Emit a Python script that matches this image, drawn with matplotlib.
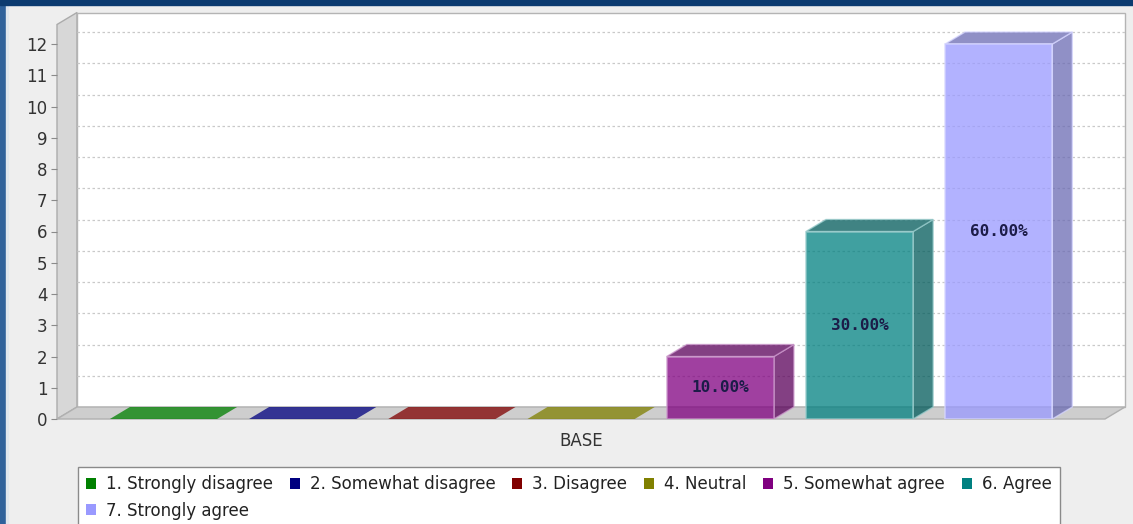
import matplotlib.pyplot as plt
from matplotlib.patches import Polygon, Rectangle
from matplotlib.colors import to_rgb

# survey answers for the single group
answers = ['1. Strongly disagree', '2. Somewhat disagree', '3. Disagree', '4. Neutral',
           '5. Somewhat agree', '6. Agree', '7. Strongly agree']
counts = [0, 0, 0, 0, 2, 6, 12]
colors = ['#008000', '#000080', '#800000', '#808000', '#800080', '#008080', '#9999ff']
group = 'BASE'
y_ticks = list(range(0, 13))

total = sum(counts)
ALPHA = 0.75


def darker(c, f=0.7):
    return tuple(v * f for v in to_rgb(c))


def lighter(c, f=0.6):
    return tuple(v + (1 - v) * f for v in to_rgb(c))


fig = plt.figure(figsize=(11.33, 5.24), dpi=100)
fig.patch.set_facecolor('#eeeeee')

# window frame bands
fig.patches.append(Rectangle((0, 0), 6 / 1133, 1, transform=fig.transFigure,
                             color='#2e619b', zorder=0))
fig.patches.append(Rectangle((6 / 1133, 0), 2 / 1133, 1, transform=fig.transFigure,
                             color='#dfe6ee', zorder=0))
fig.patches.append(Rectangle((0, 1 - 5 / 524), 1, 5 / 524, transform=fig.transFigure,
                             color='#0c3b70', zorder=0))

ax = fig.add_axes([57 / 1133, 105 / 524, 1068 / 1133, 406.5 / 524])
ax.set_facecolor('none')
ax.set_xlim(-0.765, 6.907)
ax.set_ylim(0, 13.008)
for s in ax.spines.values():
    s.set_visible(False)

# 3d depth in data units (20 px right, 12 px up)
xlo, xhi = ax.get_xlim()
ylo, yhi = ax.get_ylim()
DX = 20 * (xhi - xlo) / (ax.get_position().width * fig.get_figwidth() * fig.dpi)
DY = 12 * (yhi - ylo) / (ax.get_position().height * fig.get_figheight() * fig.dpi)
x0, x1 = xlo, xhi - DX
ytop = yhi - DY

# walls and floor
ax.add_patch(Polygon([(x0, 0), (x0 + DX, DY), (x0 + DX, ytop + DY), (x0, ytop)],
                     closed=True, fc='#d7d7d7', ec='#ababab', lw=1, zorder=1, clip_on=False))
ax.add_patch(Rectangle((x0 + DX, DY), x1 - x0, ytop, fc='white', ec='#b4b4b4',
                       lw=1, zorder=1, clip_on=False))
ax.add_patch(Polygon([(x0, 0), (x1, 0), (x1 + DX, DY), (x0 + DX, DY)],
                     closed=True, fc='#cecece', ec='#b0b0b0', lw=1, zorder=2, clip_on=False))
for v in y_ticks[1:]:
    ax.plot([x0 + DX, x1 + DX], [v + DY, v + DY], ls=(0, (2, 2)), color='#c9c9c9',
            lw=0.9, zorder=1.5)

# 3d bars
width = 0.77
for i, (v, c) in enumerate(zip(counts, colors)):
    left, right = i - width / 2, i + width / 2
    if v == 0:
        ax.add_patch(Polygon([(left, 0), (right, 0), (right + DX, DY), (left + DX, DY)],
                             closed=True, fc=c, alpha=ALPHA, lw=0, zorder=3))
        continue
    edge = lighter(c)
    ax.add_patch(Polygon([(right, 0), (right + DX, DY), (right + DX, v + DY), (right, v)],
                         closed=True, fc=darker(c), alpha=ALPHA, ec=edge, lw=1, zorder=3))
    ax.add_patch(Polygon([(left, v), (right, v), (right + DX, v + DY), (left + DX, v + DY)],
                         closed=True, fc=darker(c), alpha=ALPHA, ec=edge, lw=1, zorder=3))
    ax.add_patch(Rectangle((left, 0), width, v, fc=c, alpha=ALPHA, ec=edge, lw=1.2, zorder=4))
    ax.text(i, v / 2, f'{v / total * 100:.2f}%', ha='center', va='center',
            family='DejaVu Sans Mono', weight='bold', size=11.5, color='#1c1c48', zorder=5)

ax.set_yticks(y_ticks)
ax.set_yticklabels([str(t) for t in y_ticks])
ax.tick_params(axis='y', length=4, color='#8a8a8a', pad=3, labelsize=12, labelcolor='#333333')
ax.set_xticks([3])
ax.set_xticklabels([group])
ax.tick_params(axis='x', length=0, pad=9, labelsize=12, labelcolor='#333333')

# legend: first column holds items 1 and 7 so row one reads 1..6
handles = [Rectangle((0, 0), 1, 1, fc=c) for c in colors]
order = [0, 6, 1, 2, 3, 4, 5]
leg = fig.legend([handles[k] for k in order], [answers[k] for k in order],
                 loc='upper left', bbox_to_anchor=(78 / 1133, 1 - 467 / 524), ncol=6,
                 frameon=True, fancybox=False, edgecolor='#8a8a8a', framealpha=1,
                 handlelength=0.6, handleheight=0.6, handletextpad=0.6,
                 columnspacing=1.0, borderpad=0.5, labelspacing=0.5, fontsize=12,
                 borderaxespad=0)
for t in leg.get_texts():
    t.set_color('#222222')

fig.savefig('out.png', dpi=100, facecolor=fig.get_facecolor())
